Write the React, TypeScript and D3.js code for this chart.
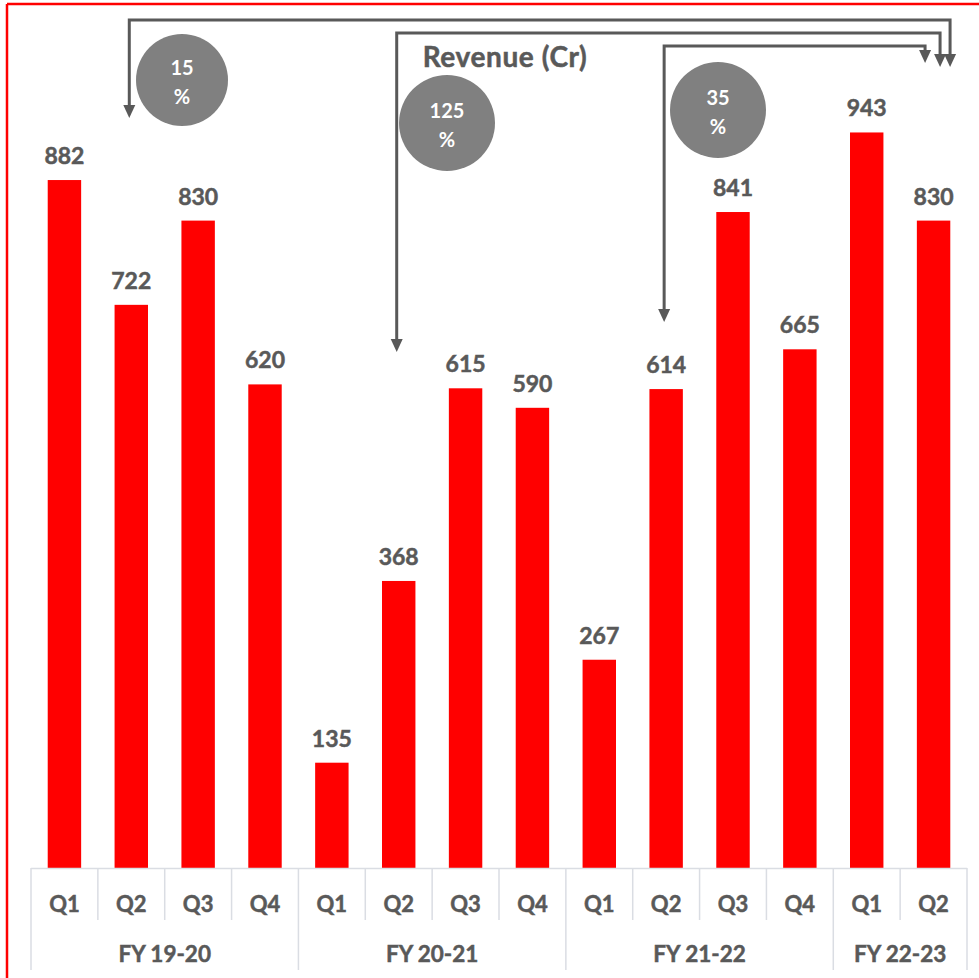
import React from 'react'
import * as d3 from 'd3'

const quarters = ['Q1', 'Q2', 'Q3', 'Q4', 'Q1', 'Q2', 'Q3', 'Q4', 'Q1', 'Q2', 'Q3', 'Q4', 'Q1', 'Q2']
const fiscalYears = ['FY 19-20', 'FY 20-21', 'FY 21-22', 'FY 22-23']
const quartersPerYear = [4, 4, 4, 2]
const revenue = [882, 722, 830, 620, 135, 368, 615, 590, 267, 614, 841, 665, 943, 830]

// growth call-outs: from bar index -> to bar index
const growthFrom = [1, 5, 9]
const growthTo = [13, 13, 13]
const growthPct = ['15', '125', '35']

const W = 979
const H = 978
const FONT = 'Lato, "Open Sans", sans-serif'
const GREY = '#595959'

export default function App() {
  const keys = revenue.map((_, i) => String(i))
  const x = d3.scaleBand<string>().domain(keys).range([31, 967]).paddingInner(0.5).paddingOuter(0.25)
  const y = d3.scaleLinear().domain([0, 1000]).range([868, 88])
  const step = x.step()
  const left = 31
  const base = y(0)

  // group boundaries
  const bounds: number[] = [0]
  quartersPerYear.forEach((n) => bounds.push(bounds[bounds.length - 1] + n))

  const cx = (i: number) => (x(String(i)) ?? 0) + x.bandwidth() / 2

  // arrow layout (annotation, not data)
  const levelY = [20, 33, 46]
  const startTip = [118, 352, 322]
  const endOffset = [16.5, 6.5, -8.5]
  const endTip = [67, 67, 63]
  const bubbles = [
    { x: 182, y: 80, r: 46 },
    { x: 447, y: 123, r: 48 },
    { x: 718, y: 110, r: 48 },
  ]

  const head = (hx: number, tip: number) => `M${hx - 6},${tip - 13} L${hx + 6},${tip - 13} L${hx},${tip} z`
  const heavy = { stroke: GREY, strokeWidth: 0.5 }

  return (
    <svg
      width={W}
      height={H}
      style={{ position: 'absolute', left: 0, top: 0, background: '#fff' }}
      fontFamily={FONT}
    >
      {/* red frame */}
      <line x1={7} y1={4} x2={W} y2={4} stroke="#ff0000" strokeWidth={2.5} />
      <line x1={7} y1={4} x2={7} y2={H} stroke="#ff0000" strokeWidth={2.5} />

      <text x={505} y={67} textAnchor="middle" fontSize={28} letterSpacing={0.6} fontWeight={700} fill={GREY} {...heavy}>
        Revenue (Cr)
      </text>

      {/* bars */}
      {revenue.map((v, i) => (
        <g key={`bar-${i}`}>
          <rect x={x(String(i))} y={y(v)} width={x.bandwidth()} height={base - y(v)} fill="#ff0000" />
          <text x={cx(i)} y={y(v) - 16} textAnchor="middle" fontSize={23} fontWeight={700} fill={GREY} {...heavy}>
            {v}
          </text>
        </g>
      ))}

      {/* category axis */}
      <line x1={left} x2={left + step * quarters.length} y1={base + 0.5} y2={base + 0.5} stroke="#dadde3" strokeWidth={1.5} />
      {d3.range(quarters.length + 1).map((i) => {
        const isGroup = bounds.includes(i)
        const xx = left + i * step
        return (
          <line key={`tick-${i}`} x1={xx} x2={xx} y1={base} y2={isGroup ? 970 : 920} stroke="#dadde3" strokeWidth={1.5} />
        )
      })}
      {quarters.map((q, i) => (
        <text key={`q-${i}`} x={cx(i)} y={912} textAnchor="middle" fontSize={22} fontWeight={700} fill={GREY} {...heavy}>
          {q}
        </text>
      ))}
      {fiscalYears.map((fy, g) => {
        const mid = left + ((bounds[g] + bounds[g + 1]) / 2) * step
        return (
          <text key={`fy-${g}`} x={mid} y={962} textAnchor="middle" fontSize={22.5} fontWeight={700} fill={GREY} {...heavy}>
            {fy}
          </text>
        )
      })}

      {/* growth arrows */}
      {growthFrom.map((f, k) => {
        const x0 = cx(f) - 2
        const x1 = cx(growthTo[k]) + endOffset[k]
        const ly = levelY[k]
        return (
          <g key={`arrow-${k}`}>
            <path
              d={`M${x0},${startTip[k] - 10} L${x0},${ly} L${x1},${ly} L${x1},${endTip[k] - 10}`}
              fill="none"
              stroke={GREY}
              strokeWidth={3}
            />
            <path d={head(x0, startTip[k])} fill={GREY} />
            <path d={head(x1, endTip[k])} fill={GREY} />
          </g>
        )
      })}

      {growthPct.map((p, k) => (
        <g key={`bubble-${k}`}>
          <circle cx={bubbles[k].x} cy={bubbles[k].y} r={bubbles[k].r} fill="#808080" />
          <text x={bubbles[k].x} y={bubbles[k].y - 5} textAnchor="middle" fontSize={20} fontWeight={700} fill="#fff">
            {p}
          </text>
          <text x={bubbles[k].x} y={bubbles[k].y + 24} textAnchor="middle" fontSize={20} fontWeight={700} fill="#fff">
            %
          </text>
        </g>
      ))}
    </svg>
  )
}
